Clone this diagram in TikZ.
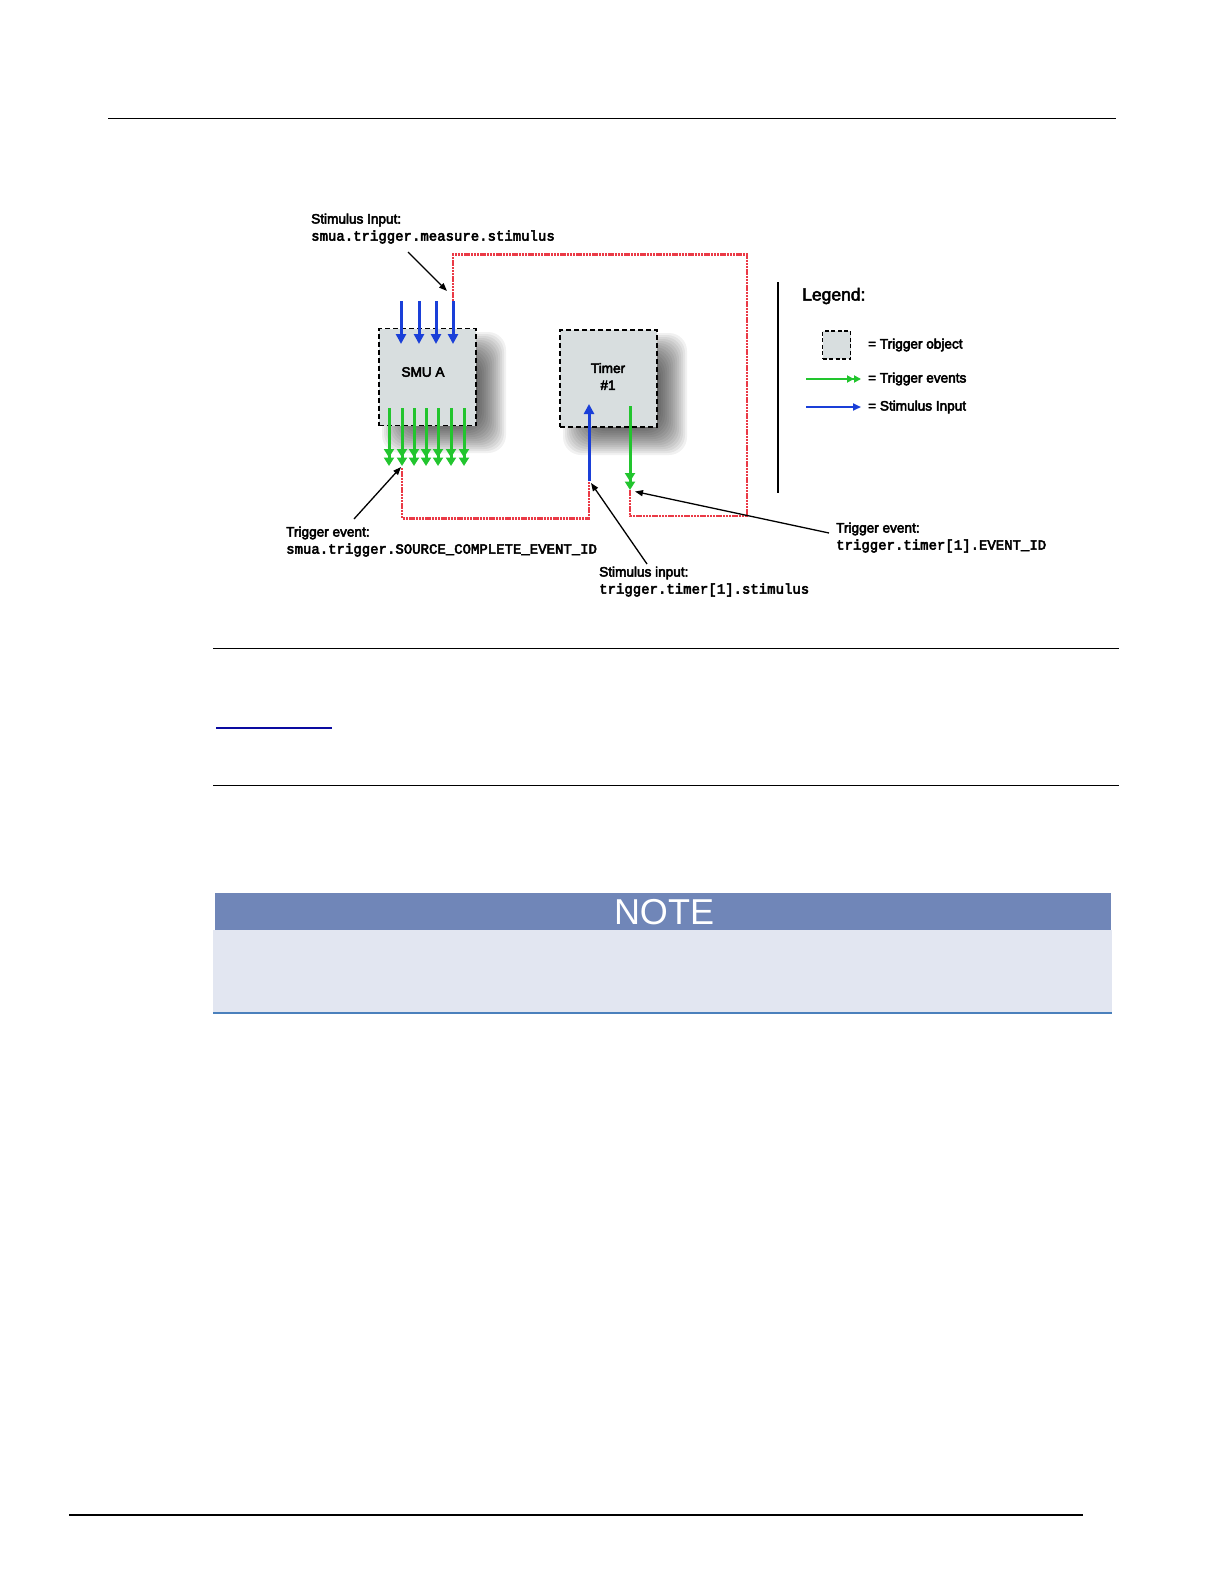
\documentclass[tikz,border=0pt]{standalone}
\usepackage{fontspec}
\setmainfont{Liberation Sans}
\newfontfamily\labfont{Liberation Sans}
\newfontfamily\codefont{Liberation Mono}
\usetikzlibrary{arrows.meta}
\definecolor{boxgrey}{HTML}{D8DEDF}
\definecolor{trigred}{HTML}{EA3A46}
\definecolor{evgreen}{HTML}{22C52E}
\definecolor{stblue}{HTML}{1A3FD8}
\definecolor{noteHead}{HTML}{7086B8}
\definecolor{noteBody}{HTML}{E2E6F1}
\definecolor{noteLine}{HTML}{4A80BC}
\definecolor{linkblue}{HTML}{0A0AA0}
\tikzset{
  heavy/.style={execute at begin node={\special{pdf:code q 2 Tr 0.5 w}},execute at end node={\special{pdf:code Q}}},
  trigbox/.style={draw=black,fill=boxgrey,line width=1.6pt,dash pattern=on 5pt off 3pt,inner sep=0pt,minimum width=#1,minimum height=#1},
  rule/.style={draw=black,line width=1pt},
  eventarrow/.style={draw=evgreen,line width=3pt,-{Triangle[length=8.5pt,width=10pt]Triangle[length=8.5pt,width=10pt]}},
  stimarrow/.style={draw=stblue,line width=3pt,-{Triangle[length=10pt,width=10pt]}},
  redlink/.style={draw=trigred,line width=2.8pt,dash pattern=on 2.4pt off 0.8pt},
  leader/.style={draw=black,line width=1.3pt,-{Triangle[length=8pt,width=6pt]}},
  lab/.style={heavy,inner sep=0pt,anchor=west,font=\labfont\fontsize{13.6}{16}\selectfont},
  code/.style={heavy,inner sep=0pt,anchor=west,font=\codefont\fontsize{14}{16}\selectfont},
  boxtext/.style={heavy,inner sep=0pt,align=center,font=\labfont\fontsize{13.6}{17}\selectfont}
}
\newcommand{\softshadow}[4]{%
  \foreach \i in {0,2,...,36}{
    \fill[black,fill opacity=0.055,rounded corners=18pt]
      ({#1+\i},{#2+\i}) rectangle ({#3-\i},{#4-\i});
  }}
\begin{document}
\begin{tikzpicture}[x=1pt,y=-1pt]
\useasboundingbox (0,0) rectangle (1224,1584);
\fill[white] (0,0) rectangle (1224,1584);

% page rules
\coordinate (t1) at (108,118.5); \coordinate (t2) at (1116,118.5);
\draw[rule] (t1) -- (t2);
\coordinate (m1) at (213,648); \coordinate (m2) at (1119,648);
\draw[rule] (m1) -- (m2);
\coordinate (n1) at (213,785); \coordinate (n2) at (1119,785);
\draw[rule] (n1) -- (n2);
\coordinate (l1) at (216,728); \coordinate (l2) at (332,728);
\draw[draw=linkblue,line width=2pt] (l1) -- (l2);
\coordinate (b1) at (69,1515); \coordinate (b2) at (1083,1515);
\draw[draw=black,line width=2pt] (b1) -- (b2);

% note box
\fill[noteBody] (213,930) rectangle (1112,1013);
\fill[noteHead] (215,893) rectangle (1111,930);
\coordinate (nb1) at (213,1013); \coordinate (nb2) at (1112,1013);
\draw[draw=noteLine,line width=1.6pt] (nb1) -- (nb2);
\node[inner sep=0pt,text=white,font=\fontsize{36}{40}\selectfont] (notetitle) at (664,912.5) {NOTE};

% shadows
\softshadow{382}{332}{506}{453}
\softshadow{563}{333}{687}{455}

% trigger objects
\node[trigbox=97pt] (smu) at (427.5,377) {};
\node[boxtext] (smutext) at (423,372) {SMU A};
\node[trigbox=97pt] (timer) at (608.5,378.5) {};
\node[boxtext] (timertext) at (608,376.5) {Timer\\\#1};

% red links
\coordinate (ra) at (453,301); \coordinate (rb) at (453,254.5);
\coordinate (rc) at (747,254.5); \coordinate (rd) at (747,516);
\coordinate (re) at (630,516); \coordinate (rf) at (630,490);
\draw[redlink] (ra) -- (rb) -- (rc) -- (rd) -- (re) -- (rf);
\coordinate (sa) at (402,468); \coordinate (sb) at (402,518.5);
\coordinate (sc) at (589,518.5); \coordinate (sd) at (589,481);
\draw[redlink] (sa) -- (sb) -- (sc) -- (sd);

% stimulus inputs on SMU
\foreach \n/\x in {s1/401,s2/419,s3/436,s4/453}{
  \coordinate (\n a) at (\x,301); \coordinate (\n b) at (\x,344);
  \draw[stimarrow] (\n a) -- (\n b);
}
% trigger events of SMU
\foreach \n/\x in {g1/389,g2/402,g3/414,g4/426,g5/438,g6/451,g7/464}{
  \coordinate (\n a) at (\x,408); \coordinate (\n b) at (\x,466);
  \draw[eventarrow] (\n a) -- (\n b);
}
% timer arrows
\coordinate (ta) at (589,481); \coordinate (tb) at (589,404);
\draw[stimarrow] (ta) -- (tb);
\coordinate (tc) at (630,406); \coordinate (td) at (630,490);
\draw[eventarrow] (tc) -- (td);

% labels
\node[lab] (lab1) at (311,220) {Stimulus Input:};
\node[code] (code1) at (311,237) {smua.trigger.measure.stimulus};
\node[lab] (lab2) at (286,533) {Trigger event:};
\node[code] (code2) at (286,550) {smua.trigger.SOURCE\_COMPLETE\_EVENT\_ID};
\node[lab] (lab3) at (599,573) {Stimulus input:};
\node[code] (code3) at (599,590) {trigger.timer[1].stimulus};
\node[lab] (lab4) at (836,529) {Trigger event:};
\node[code] (code4) at (836,546) {trigger.timer[1].EVENT\_ID};

% leaders
\coordinate (a1s) at (408,252); \coordinate (a1e) at (447,291);
\draw[leader] (a1s) -- (a1e);
\coordinate (a2s) at (354,519); \coordinate (a2e) at (401,467);
\draw[leader] (a2s) -- (a2e);
\coordinate (a3s) at (647,564); \coordinate (a3e) at (591,483);
\draw[leader] (a3s) -- (a3e);
\coordinate (a4s) at (829,533); \coordinate (a4e) at (635,491.5);
\draw[leader] (a4s) -- (a4e);

% legend
\coordinate (bar1) at (778,282); \coordinate (bar2) at (778,493);
\draw[draw=black,line width=2.8pt] (bar1) -- (bar2);
\node[heavy,inner sep=0pt,anchor=west,font=\labfont\fontsize{17.5}{20}\selectfont] (legtitle) at (802,296) {Legend:};
\node[trigbox=28pt,line width=1.2pt,dash pattern=on 4pt off 2.5pt] (legbox) at (836.5,345) {};
\node[lab] (leg1) at (868,345) {= Trigger object};
\node[lab] (leg2) at (868,379) {= Trigger events};
\node[lab] (leg3) at (868,407) {= Stimulus Input};
\coordinate (lg1) at (806,379); \coordinate (lg2) at (861,379);
\draw[draw=evgreen,line width=2.4pt,-{Triangle[length=7pt,width=7pt]Triangle[length=7pt,width=7pt]}] (lg1) -- (lg2);
\coordinate (lb1) at (806,407); \coordinate (lb2) at (861,407);
\draw[draw=stblue,line width=2.4pt,-{Triangle[length=8pt,width=7pt]}] (lb1) -- (lb2);
\end{tikzpicture}
\end{document}
